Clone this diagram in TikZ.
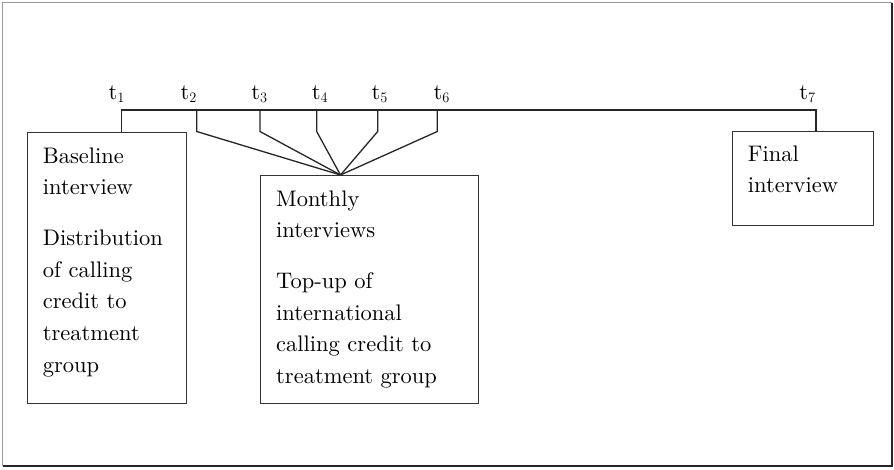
\documentclass[tikz,border=0pt]{standalone}
\usepackage{fontspec}
\setmainfont{lmroman10-regular.otf}
\begin{document}
\begin{tikzpicture}[x=1pt,y=-1pt,
  box/.style={draw=black!80, line width=1.3pt, minimum width=#1, inner sep=0, anchor=north west},
  txt/.style={anchor=north west, inner sep=0, align=left, font=\fontsize{22.5}{31.7}\selectfont},
  tlab/.style={anchor=base, inner sep=0, font=\fontsize{22.5}{26}\selectfont},
  conn/.style={line width=1.3pt, black!85}]
\useasboundingbox (0,0) rectangle (894,469);
\fill[white] (0,0) rectangle (894,469);
% outer frame
\draw[black!40, line width=1.3pt] (2.5,466) -- (2.5,2.5) -- (892,2.5);
\draw[black!85, line width=1.3pt] (892,2.5) -- (892,466) -- (2.5,466);
% boxes
\node[box, minimum width=159pt, minimum height=271pt] (base) at (27,132) {};
\node[box, minimum width=218pt, minimum height=228pt] (month) at (260,175) {};
\node[box, minimum width=141pt, minimum height=94pt] (final) at (731.7,130.7) {};
% texts
\node[txt] (basetxt) at (42.7,147.2) {Baseline\\interview\\[19pt]Distribution\\of calling\\credit to\\treatment\\group};
\node[txt] (monthtxt) at (276,190.2) {Monthly\\interviews\\[19pt]Top-up of\\international\\calling credit to\\treatment group};
\node[txt] (finaltxt) at (747.7,145.2) {Final\\interview};
% timeline coordinates
\coordinate (c1) at (121.7,110);
\coordinate (c2) at (196.7,110);
\coordinate (c3) at (260,110);
\coordinate (c4) at (316.7,110);
\coordinate (c5) at (377.7,110);
\coordinate (c6) at (437.3,110);
\coordinate (c7) at (816,110);
\coordinate (m) at (340.5,175);
% labels
\node[tlab] (t1) at (116.8,99.3) {t$_1$};
\node[tlab] (t2) at (188.8,99.3) {t$_2$};
\node[tlab] (t3) at (259.5,99.3) {t$_3$};
\node[tlab] (t4) at (320,99.3) {t$_4$};
\node[tlab] (t5) at (379.7,99.3) {t$_5$};
\node[tlab] (t6) at (441.7,99.3) {t$_6$};
\node[tlab] (t7) at (807.5,99.3) {t$_7$};
% connectors
\draw[conn] (c1 |- base.north) -- (c1) -- (c7) -- (c7 |- final.north);
\foreach \i in {2,...,6}{
  \draw[conn] (c\i) -- ++(0,21.5) -- (m);
}
\end{tikzpicture}
\end{document}
